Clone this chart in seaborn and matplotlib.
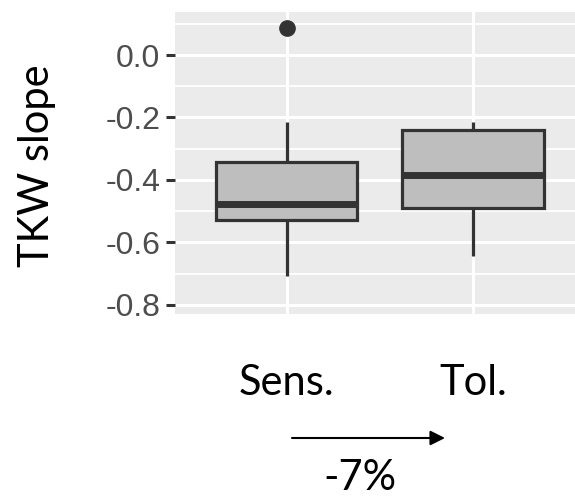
import matplotlib
matplotlib.use("Agg")
import matplotlib.pyplot as plt
import seaborn as sns
import pandas as pd
import numpy as np

# ---- data ----
categories = ["Sens.", "Tol."]
sens_values = [-0.706, -0.60, -0.528, -0.50, -0.478, -0.41, -0.342, -0.214, 0.087]
tol_values = [-0.643, -0.55, -0.490, -0.43, -0.384, -0.30, -0.240, -0.225, -0.214]
y_major_ticks = [-0.8, -0.6, -0.4, -0.2, 0.0]
y_tick_labels = ["-0.8", "-0.6", "-0.4", "-0.2", "0.0"]
y_minor_ticks = [-0.7, -0.5, -0.3, -0.1, 0.1]
y_label = "TKW slope"
change_label = "-7%"

df = pd.DataFrame({
    "group": [categories[0]] * len(sens_values) + [categories[1]] * len(tol_values),
    "slope": sens_values + tol_values,
})

W, H = 575, 498
fig = plt.figure(figsize=(W / 100, H / 100), dpi=100)
left, right, top, bottom = 175, 575, 11.7, 314
ax = fig.add_axes([left / W, 1 - bottom / H, (right - left) / W, (bottom - top) / H])
ax.set_facecolor("#EBEBEB")

sns.boxplot(data=df, x="group", y="slope", order=categories, ax=ax,
            color="#BEBEBE", saturation=1, width=0.76, linecolor="#333333",
            linewidth=2.3, whis=1.5, showcaps=False,
            boxprops=dict(linewidth=2.3),
            whiskerprops=dict(linewidth=2.3, color="#333333"),
            medianprops=dict(linewidth=5, color="#333333"),
            flierprops=dict(marker="o", markersize=11, markerfacecolor="#333333",
                            markeredgecolor="#333333"),
            zorder=3)

ax.set_xlim(-0.6, 1.548)
ax.set_ylim(-0.829, 0.1386)

ax.set_yticks(y_major_ticks)
ax.set_yticklabels(y_tick_labels, fontsize=23, color="#4D4D4D", family="Liberation Sans")
ax.set_yticks(y_minor_ticks, minor=True)
ax.tick_params(axis="y", which="major", length=6.5, width=2.2, color="#333333", pad=4)
ax.tick_params(axis="y", which="minor", length=0)
ax.grid(True, which="major", axis="both", color="white", linewidth=2.2, zorder=0)
ax.grid(True, which="minor", axis="y", color="white", linewidth=1.3, zorder=0)
ax.set_axisbelow(True)

ax.set_xticks([0, 1])
ax.set_xticklabels(categories, fontsize=30, color="black", family="Lato")
ax.tick_params(axis="x", length=0, pad=36)

for s in ax.spines.values():
    s.set_visible(False)

ax.set_xlabel("")
ax.set_ylabel("")
fig.text(37 / W, 1 - 166 / H, y_label, rotation=90, ha="center", va="center",
         fontsize=30, family="Lato", color="black")

# arrow and percentage
ax.annotate("", xy=(445 / W, 1 - 438 / H), xytext=(292 / W, 1 - 438 / H),
            xycoords="figure fraction", textcoords="figure fraction",
            arrowprops=dict(arrowstyle="-|>", color="black", lw=1.5,
                            mutation_scale=22, shrinkA=0, shrinkB=0))
fig.text(360 / W, 1.5 / H, change_label, ha="center", va="bottom",
         fontsize=30, family="Lato", color="black")

fig.savefig("out.png", dpi=100)
